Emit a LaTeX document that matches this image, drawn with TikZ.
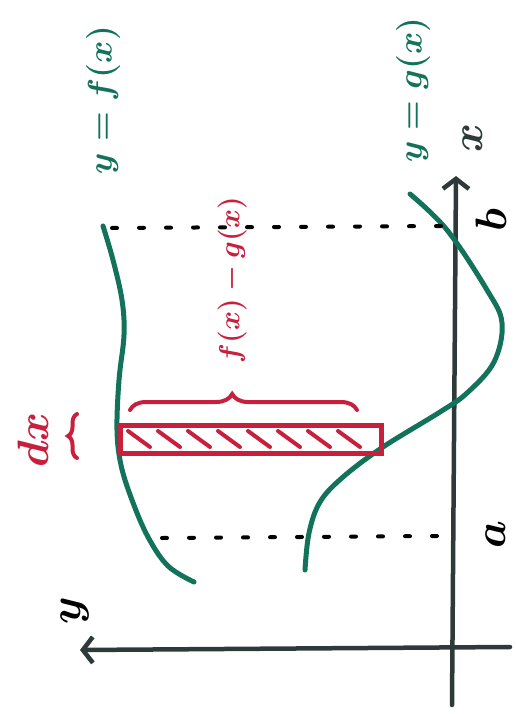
\documentclass[tikz,border=0pt]{standalone}
\usepackage{fix-cm}
\usepackage{amsmath}
\usepackage{tikz}
\usetikzlibrary{arrows.meta,decorations.pathreplacing}
\definecolor{curve}{HTML}{12725A}
\definecolor{strip}{HTML}{C8203C}
\definecolor{axis}{HTML}{2E3A3A}

\begin{document}
\begin{tikzpicture}[x=1pt,y=-1pt,
  ax/.style={axis,line width=4.5pt,line cap=round,-{Straight Barb[length=10pt,width=26pt,line width=4.5pt]}},
  crv/.style={curve,line width=5pt,line cap=round},
  lim/.style={black,line width=4pt,line cap=round,dash pattern=on 5pt off 22pt},
  rect/.style={draw=strip,line width=5pt,minimum width=261pt,minimum height=28pt,inner sep=0pt},
  hatch/.style={strip,line width=4pt,line cap=round},
  brc/.style={strip,line width=4pt,line cap=round,decorate},
  lbl/.style={rotate=90,inner sep=0pt,font=\fontsize{34}{40}\selectfont\boldmath},
  big/.style={font=\fontsize{44}{52}\selectfont\boldmath}]
 \useasboundingbox (0,0) rectangle (515,714);
 \coordinate (xFoot) at (452,705);
 \coordinate (xTip) at (456,176);
 \coordinate (yFoot) at (510,647);
 \coordinate (yTip) at (80,650);
 \draw[ax] (xFoot) -- (xTip);
 \draw[ax] (yFoot) -- (yTip);
 \draw[crv] plot[smooth,tension=.6] coordinates {(103,226) (113,260) (122,300) (124,335) (119,380) (117,430) (121,465) (132,500) (148,537) (168,566) (194,582)};
 \draw[crv] plot[smooth,tension=.6] coordinates {(410,194) (447,230) (487,290) (502,323) (494,362) (467,393) (440,412) (383,447) (343,477) (320,502) (309,533) (305,570)};
 \coordinate (bL) at (112,228);
 \coordinate (bR) at (446,226);
 \coordinate (aL) at (162,538);
 \coordinate (aR) at (437,536);
 \draw[lim] (bL) -- (bR);
 \draw[lim] (aL) -- (aR);
 \foreach \h in {128,158,...,350}
   \draw[hatch] (\h,431) -- (\h+22,447);
 \node[rect] (strip) at (250.5,439) {};
 \coordinate (brL) at (130,410);
 \coordinate (brR) at (357,410);
 \draw[brc,decoration={brace,amplitude=16pt,aspect=.45}] (brL) -- (brR);
 \coordinate (dxB) at (77,458);
 \coordinate (dxT) at (77,414);
 \draw[brc,decoration={brace,amplitude=9pt}] (dxB) -- (dxT);
 \node[lbl,text=curve] (fLbl) at (103,100) {$y=f(x)$};
 \node[lbl,text=curve] (gLbl) at (413,90) {$y=g(x)$};
 \node[lbl,big,text=axis] (xLbl) at (473,138) {$x$};
 \node[lbl,big] (yLbl) at (75,611) {$y$};
 \node[lbl,big] (bLbl) at (491,220) {$b$};
 \node[lbl,big] (aLbl) at (496,535) {$a$};
 \node[lbl,text=strip,font=\fontsize{29}{34}\selectfont\boldmath] (diffLbl) at (232,280) {$f(x)-g(x)$};
 \node[lbl,big,text=strip] (dxLbl) at (33,440) {$dx$};
\end{tikzpicture}
\end{document}
